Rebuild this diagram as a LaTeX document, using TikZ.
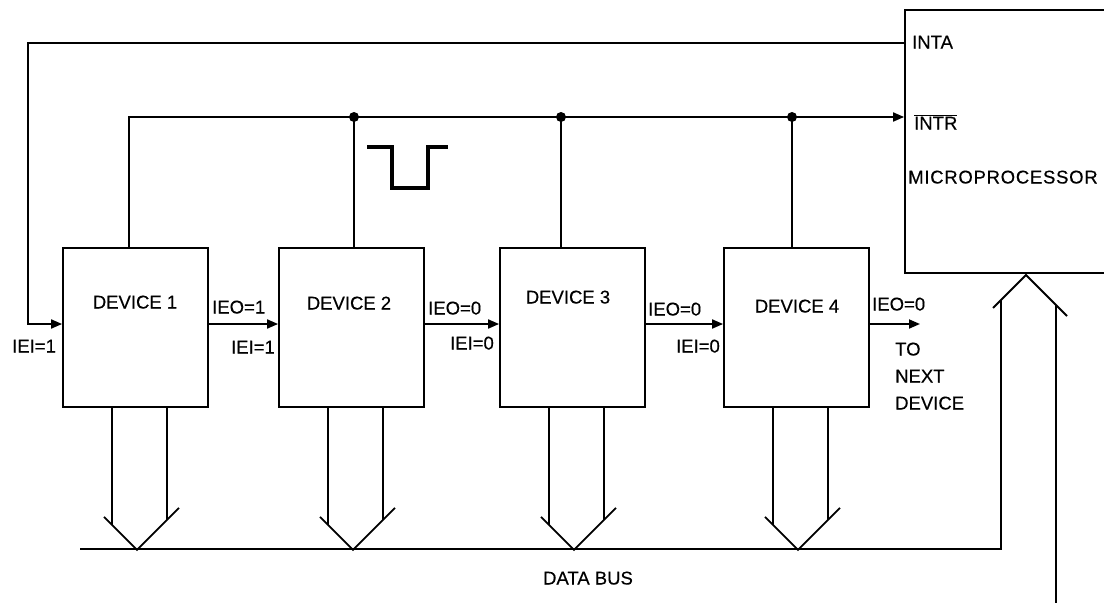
\documentclass[tikz,border=0pt]{standalone}
\usepackage{fontspec}
\setmainfont{Liberation Sans}
\newfontfamily\lblfont[FakeBold=0.35]{Liberation Sans}
\newfontfamily\widefont[FakeBold=0.35,LetterSpace=4]{Liberation Sans}
\usetikzlibrary{arrows.meta,calc}
\begin{document}
\begin{tikzpicture}[x=1pt,y=-1pt,
  wire/.style={line width=1.8pt,line cap=rect},
  arr/.style={wire,-{Triangle[length=11pt,width=9pt]}},
  devbox/.style={draw,line width=1.8pt,minimum width=145pt,minimum height=159pt,inner sep=0pt},
  mpbox/.style={draw,line width=1.8pt,minimum width=240pt,minimum height=263pt,inner sep=0pt},
  lbl/.style={inner sep=0pt,font=\lblfont\fontsize{18.5}{22}\selectfont},
  dot/.style={circle,fill=black,inner sep=0pt,minimum size=10pt}
]
\useasboundingbox (0,0) rectangle (1104,603);
\clip (0,0) rectangle (1104,603);
\fill[white] (0,0) rectangle (1104,603);

% boxes
\node[mpbox] (mp) at (1025,141.5) {};
\node[devbox] (d1) at (135.5,327.5) {};
\node[devbox] (d2) at (351.5,327.5) {};
\node[devbox] (d3) at (572.5,327.5) {};
\node[devbox] (d4) at (796.5,327.5) {};

% labels
\node[lbl,anchor=base west] (tinta) at (912,48.5) {INTA};
\node[lbl,anchor=base west] (tintr) at (914,129.5) {$\overline{\mbox{\lblfont\fontsize{18.5}{22}\selectfont INTR}}$};
\node[lbl,anchor=base west,font=\widefont\fontsize{18.5}{22}\selectfont] (tmp) at (908,183.5) {MICROPROCESSOR};
\node[lbl,anchor=base] (t1) at (135,308.5) {DEVICE 1};
\node[lbl,anchor=base] (t2) at (349,309.5) {DEVICE 2};
\node[lbl,anchor=base] (t3) at (568,303.5) {DEVICE 3};
\node[lbl,anchor=base] (t4) at (797,312.5) {DEVICE 4};
\node[lbl,anchor=base west] (ieiL) at (12,352.5) {IEI=1};
\node[lbl,anchor=base west] (ieo1) at (212,313.5) {IEO=1};
\node[lbl,anchor=base east] (iei2) at (275,353.5) {IEI=1};
\node[lbl,anchor=base west] (ieo2) at (428,314.5) {IEO=0};
\node[lbl,anchor=base east] (iei3) at (494,349.5) {IEI=0};
\node[lbl,anchor=base west] (ieo3) at (648,315.5) {IEO=0};
\node[lbl,anchor=base east] (iei4) at (720,352.5) {IEI=0};
\node[lbl,anchor=base west] (ieo4) at (872,310.5) {IEO=0};
\node[lbl,anchor=base west] (tto) at (895,355.5) {TO};
\node[lbl,anchor=base west] (tnext) at (895,382.5) {NEXT};
\node[lbl,anchor=base west] (tdev) at (895,409.5) {DEVICE};
\node[lbl,anchor=base] (tbus) at (588,584.5) {DATA BUS};

% INTA line back to device 1
\coordinate (lc) at (28,324);
\draw[arr] ([yshift=98.5pt]mp.west) -| (lc) -- ([yshift=3.5pt]d1.west);

% INTR line
\draw[arr] ([xshift=-6.5pt]d1.north) |- ([yshift=24.5pt]mp.west);
\coordinate (j2) at (354,117);
\coordinate (j3) at (561,117);
\coordinate (j4) at (792,117);
\draw[wire] (d2.north -| j2) -- (j2);
\draw[wire] (d3.north -| j3) -- (j3);
\draw[wire] (d4.north -| j4) -- (j4);
\node[dot] (dj2) at (j2) {};
\node[dot] (dj3) at (j3) {};
\node[dot] (dj4) at (j4) {};

% pulse
\draw[line width=3.2pt] (367,147) -- (392,147) -- (392,188) -- (428,188) -- (428,147) -- (448,147);

% daisy chain
\draw[arr] ([yshift=3.5pt]d1.east) -- ([yshift=3.5pt]d2.west);
\draw[arr] ([yshift=3.5pt]d2.east) -- ([yshift=3.5pt]d3.west);
\draw[arr] ([yshift=3.5pt]d3.east) -- ([yshift=3.5pt]d4.west);
\coordinate (nxt) at (920,324);
\draw[arr] ([yshift=3.5pt]d4.east) -- (nxt);

% bus arrows from devices
\foreach \d in {d1,d2,d3,d4}{
  \coordinate (\d tip) at ($(\d.south)+(1.5,142)$);
  \draw[wire,line cap=butt] ([xshift=-23.5pt]\d.south) -- ++(0,117);
  \draw[wire,line cap=butt] ([xshift=31.5pt]\d.south) -- ++(0,112);
  \draw[wire,line cap=butt,line join=miter] ($(\d tip)+(-33,-33)$) -- (\d tip) -- ($(\d tip)+(42,-42)$);
}

% data bus and arrow up to microprocessor
\coordinate (busL) at (80,549);
\coordinate (upL) at (1001,300);
\coordinate (uptip) at (1026,275);
\draw[wire,line cap=butt] (busL) -| (upL);
\draw[wire,line cap=butt,line join=miter] ($(uptip)+(-33,33)$) -- (uptip) -- ($(uptip)+(41,41)$);
\draw[wire,line cap=butt] (1056,305) -- (1056,603);
\end{tikzpicture}
\end{document}
